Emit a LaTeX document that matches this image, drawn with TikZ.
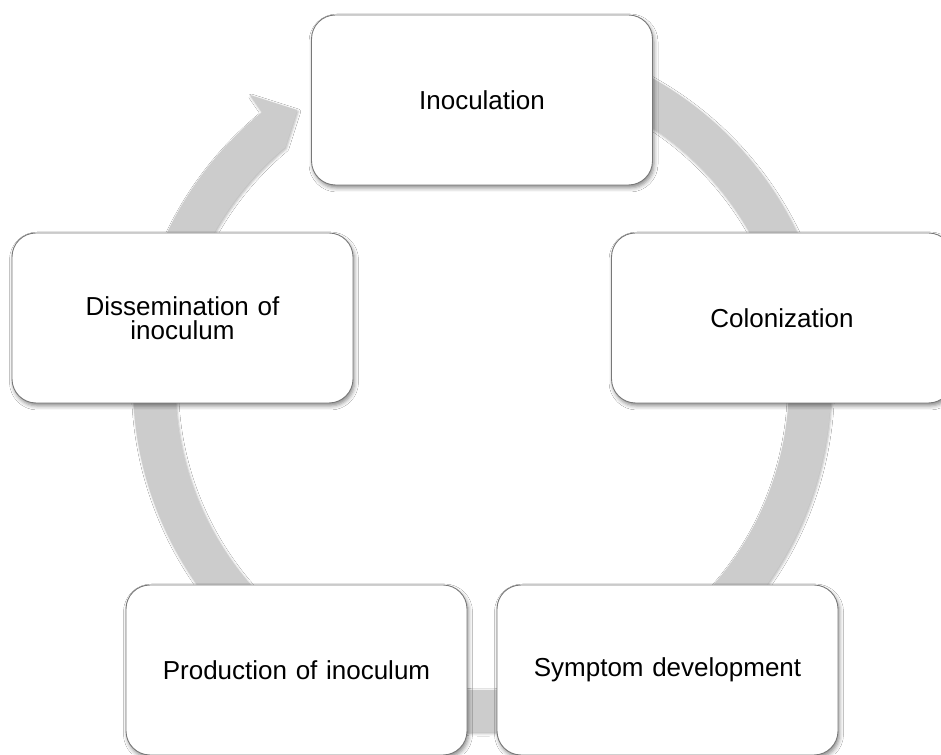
\documentclass[tikz,border=0pt]{standalone}
\usepackage{fontspec}
\setmainfont{Liberation Sans}
\usetikzlibrary{shadows.blur}
\definecolor{ringc}{RGB}{204,204,204}
\definecolor{boxline}{RGB}{120,120,120}
\tikzset{
  stage/.style={draw=boxline, line width=0.9pt, fill=white, rounded corners=24pt,
    minimum width=341pt, minimum height=170pt, inner sep=0pt, text width=310pt,
    align=center, font=\fontsize{26}{23.5}\selectfont,
    blur shadow={shadow xshift=1.5pt, shadow yshift=-3pt, shadow blur radius=4pt, shadow opacity=45}},
  ring/.style={fill=ringc,
    blur shadow={shadow xshift=1pt, shadow yshift=-1.5pt, shadow blur radius=2.5pt, shadow opacity=30}}
}
\begin{document}
\begin{tikzpicture}
\useasboundingbox[fill=white] (0,0) rectangle (941pt,754pt);
% circular arrow
\begin{scope}[shift={(482pt,371pt)}]
  \fill[ring] (80:349pt) arc[start angle=80, end angle=-230.9, radius=349pt]
    -- (128.85:369.8pt) -- (124.1:329.6pt) -- (129.85:307pt)
    arc[start angle=-230.15, end angle=80, radius=307pt] -- cycle;
\end{scope}
% stages
\node[stage] (inoc) at (482pt,654pt) {Inoculation};
\node[stage] (colon) at (782pt,436pt) {Colonization};
\node[stage] (sympt) at (667.5pt,84pt) {Symptom development};
\node[stage] (prod) at (296.5pt,84pt) {Production of inoculum};
\node[stage] (dissem) at (182.5pt,436pt) {Dissemination of\\inoculum};
\end{tikzpicture}
\end{document}
